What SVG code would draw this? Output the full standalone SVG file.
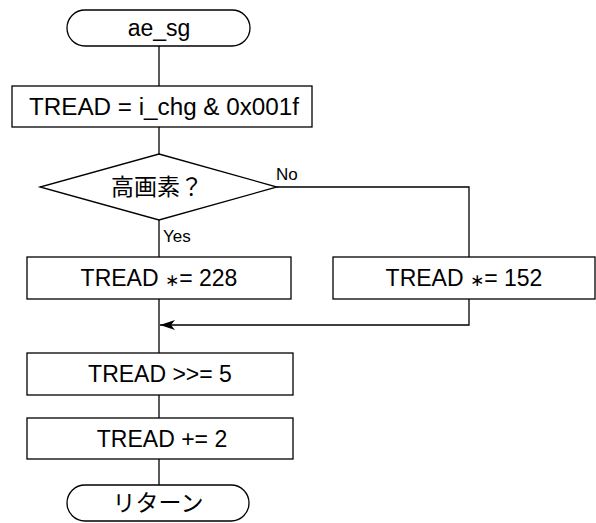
<svg xmlns="http://www.w3.org/2000/svg" width="596" height="523" viewBox="0 0 596 523">
<style>
.s{fill:#fff;stroke:#000;stroke-width:1.3}
.c{fill:none;stroke:#000;stroke-width:1.3}
.t{font-family:"Liberation Sans","Noto Sans CJK JP",sans-serif;font-size:23px;fill:#000;text-anchor:middle}
.l{font-family:"Liberation Sans","Noto Sans CJK JP",sans-serif;font-size:17px;fill:#000}
.a{font-family:"DejaVu Sans",sans-serif;font-size:17px}
</style>
<defs>
<marker id="ah" markerWidth="16" markerHeight="10" refX="15" refY="5" orient="auto" markerUnits="userSpaceOnUse">
<path d="M0,0 L15,5 L0,10 L4,5 Z" fill="#000"/>
</marker>
</defs>
<g id="connectors">
<line class="c" x1="159" y1="46" x2="159" y2="86"/>
<line class="c" x1="159" y1="127" x2="159" y2="154"/>
<line class="c" x1="159" y1="220" x2="159" y2="257"/>
<polyline class="c" points="277,187 469,187 469,257"/>
<line class="c" x1="159" y1="299" x2="159" y2="353"/>
<polyline class="c" points="469,299 469,325 160,325" marker-end="url(#ah)"/>
<line class="c" x1="159" y1="395" x2="159" y2="418"/>
<line class="c" x1="159" y1="459" x2="159" y2="485"/>
<text class="l" x="276" y="180">No</text>
<text class="l" x="163" y="242">Yes</text>
</g>
<g id="start">
<rect class="s" x="67" y="10" width="183" height="36" rx="18" ry="18"/>
<text class="t" x="159" y="36">ae_sg</text>
</g>
<g id="assign">
<rect class="s" x="12" y="86" width="300" height="41"/>
<text class="t" x="164" y="115" textLength="270" lengthAdjust="spacingAndGlyphs">TREAD = i_chg &amp; 0x001f</text>
</g>
<g id="decision">
<polygon class="s" points="159,154 277,187 159,220 40,187"/>
<text class="t" x="157" y="195">高画素？</text>
</g>
<g id="mul228">
<rect class="s" x="27" y="257" width="264" height="42"/>
<text class="t" x="159" y="286">TREAD <tspan class="a">∗</tspan>= 228</text>
</g>
<g id="mul152">
<rect class="s" x="333" y="257" width="262" height="42"/>
<text class="t" x="464" y="286">TREAD <tspan class="a">∗</tspan>= 152</text>
</g>
<g id="shift">
<rect class="s" x="27" y="353" width="266" height="42"/>
<text class="t" x="160" y="382">TREAD &gt;&gt;= 5</text>
</g>
<g id="add">
<rect class="s" x="27" y="418" width="266" height="41"/>
<text class="t" x="162" y="447">TREAD += 2</text>
</g>
<g id="return">
<rect class="s" x="67" y="485" width="182" height="36" rx="18" ry="18"/>
<text class="t" x="158" y="511">リターン</text>
</g>
</svg>
